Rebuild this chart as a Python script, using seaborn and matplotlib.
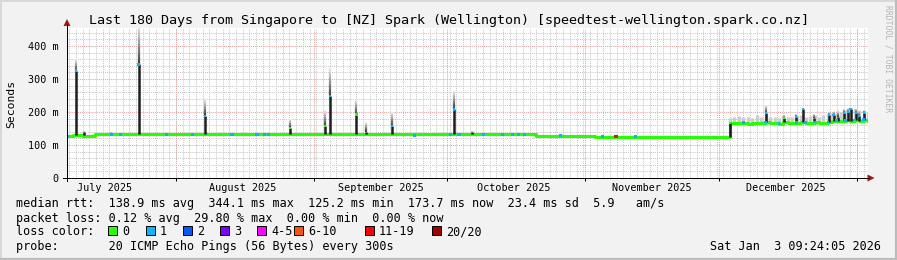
import numpy as np
import pandas as pd
import matplotlib
matplotlib.use("Agg")
import matplotlib.pyplot as plt
import matplotlib.transforms as mtransforms
import matplotlib.dates as mdates
from matplotlib.lines import Line2D
from matplotlib.patches import Rectangle, Polygon
from matplotlib.collections import LineCollection
import seaborn as sns

# ---------------- data ----------------
title = "Last 180 Days from Singapore to [NZ] Spark (Wellington) [speedtest-wellington.spark.co.nz]"
t_start = "2025-07-07 09:24"
t_end = "2026-01-03 09:24"

# median rtt (ms) as step levels before the December shift
step_dates = ["2025-07-07 09:24", "2025-07-08 20:00", "2025-07-11 04:00",
              "2025-07-13 20:00", "2025-10-21 00:00", "2025-11-03 06:00"]
step_rtt = [127, 131, 127, 132, 128, 125]

# December: daily median, smoke max, lost pings
dec_dates = ["2025-12-03 12:00", "2025-12-04 12:00", "2025-12-05 12:00", "2025-12-06 12:00",
             "2025-12-07 12:00", "2025-12-08 12:00", "2025-12-09 12:00", "2025-12-10 12:00",
             "2025-12-11 12:00", "2025-12-12 12:00", "2025-12-13 12:00", "2025-12-14 12:00",
             "2025-12-15 12:00", "2025-12-16 12:00", "2025-12-17 12:00", "2025-12-18 12:00",
             "2025-12-19 12:00", "2025-12-20 12:00", "2025-12-21 12:00", "2025-12-22 12:00",
             "2025-12-23 12:00", "2025-12-24 12:00", "2025-12-25 12:00", "2025-12-26 12:00",
             "2025-12-27 12:00", "2025-12-28 12:00", "2025-12-29 12:00", "2025-12-30 12:00",
             "2025-12-31 12:00", "2026-01-01 12:00", "2026-01-02 12:00", "2026-01-03 09:24"]
dec_rtt = [167, 168, 168, 167, 165, 166, 168, 167, 170, 166, 167, 165, 169, 166, 168, 167,
           169, 167, 168, 170, 167, 168, 170, 172, 174, 173, 175, 174, 176, 174, 177, 174]
dec_smoke = [182, 185, 188, 186, 184, 183, 190, 186, 190, 184, 185, 182, 189, 184, 186, 191,
             192, 186, 187, 190, 186, 190, 195, 196, 198, 200, 205, 208, 210, 207, 206, 200]
dec_loss = [0, 0, 0, 1, 0, 0, 0, 0, 1, 0, 0, 1, 0, 0, 0, 1,
            0, 1, 0, 1, 0, 0, 1, 0, 1, 0, 1, 0, 1, 0, 1, 0]

# short periods with packet loss on the baseline
loss_dates = ["2025-07-07 12:00", "2025-07-17 14:00", "2025-07-19 14:00", "2025-07-29 19:00",
              "2025-08-04 19:00", "2025-08-13 14:00", "2025-08-19 05:00", "2025-08-20 19:00",
              "2025-08-21 21:00", "2025-09-23 12:00", "2025-10-01 14:00", "2025-10-03 14:00",
              "2025-10-09 00:00", "2025-10-13 09:00", "2025-10-15 14:00", "2025-10-17 00:00",
              "2025-10-18 07:00", "2025-10-26 09:00", "2025-11-04 19:00", "2025-11-07 21:00",
              "2025-11-12 05:00"]
loss_rtt = [127, 132, 132, 132, 132, 132, 132, 132, 132, 130, 132, 132,
            132, 132, 132, 132, 132, 128, 125, 125, 125]
loss_count = [1, 1, 1, 1, 1, 1, 1, 1, 1, 1, 1, 1, 1, 1, 1, 1, 1, 1, 1, 15, 1]

# spikes: base level, median top, smoke max, lost pings
spike_dates = ["2025-07-09 12:00", "2025-07-11 06:00", "2025-07-17 11:00", "2025-07-23 14:00",
               "2025-08-07 12:00", "2025-08-26 14:00", "2025-09-03 12:00", "2025-09-04 14:00",
               "2025-09-10 12:00", "2025-09-12 16:00", "2025-09-18 12:00", "2025-10-02 12:00",
               "2025-10-06 15:00", "2025-12-03 12:00",
               "2025-12-11 14:00", "2025-12-15 14:00", "2025-12-18 07:00", "2025-12-19 22:00",
               "2025-12-22 07:00", "2025-12-25 17:00", "2025-12-26 19:00", "2025-12-27 17:00",
               "2025-12-29 02:00", "2025-12-30 00:00", "2025-12-30 14:00", "2025-12-31 19:00",
               "2026-01-01 12:00", "2026-01-02 14:00"]
spike_base = [131, 131, 132, 132, 132, 132, 132, 132, 132, 132, 132, 132, 132, 125,
              170, 169, 167, 169, 170, 170, 172, 174, 175, 174, 174, 176, 174, 177]
spike_top = [325, 138, 134, 344, 188, 152, 158, 248, 193, 140, 157, 208, 138, 167,
             197, 182, 185, 209, 182, 191, 191, 185, 197, 201, 209, 197, 188, 197]
spike_max = [362, 142, 140, 470, 242, 179, 206, 337, 239, 170, 201, 267, 142, 167,
             221, 192, 195, 214, 195, 200, 202, 205, 210, 212, 214, 210, 205, 206]
spike_loss = [1, 0, 0, 1, 1, 0, 0, 1, 0, 0, 1, 1, 0, 0,
              1, 0, 1, 1, 1, 1, 1, 0, 1, 1, 1, 1, 1, 1]

y_ticks = [0, 100, 200, 300, 400]
y_tick_labels = ["0", "100 m", "200 m", "300 m", "400 m"]
month_starts = ["2025-08-01", "2025-09-01", "2025-10-01", "2025-11-01", "2025-12-01", "2026-01-01"]
month_mids = ["2025-07-16", "2025-08-16", "2025-09-16", "2025-10-16", "2025-11-16", "2025-12-16"]
month_labels = ["July 2025", "August 2025", "September 2025", "October 2025",
                "November 2025", "December 2025"]

loss_keys = [0, 1, 2, 3, 5, 10, 19, 20]
loss_names = ["0", "1", "2", "3", "4-5", "6-10", "11-19", "20/20"]
loss_colors = ["#26ff00", "#00b8ff", "#0059ff", "#7e00ff", "#ff00ff", "#ff5500", "#ff0000", "#a00000"]

stat_line1 = "median rtt:  138.9 ms avg  344.1 ms max  125.2 ms min  173.7 ms now  23.4 ms sd  5.9   am/s"
stat_line2 = "packet loss: 0.12 % avg  29.80 % max  0.00 % min  0.00 % now"
stat_line3 = "loss color:"
stat_line4 = "probe:       20 ICMP Echo Pings (56 Bytes) every 300s"
stamp = "Sat Jan  3 09:24:05 2026"

# ---------------- style ----------------
W, H = 897, 260
MONO = "DejaVu Sans Mono"
plt.rcParams["font.family"] = [MONO, "DejaVu Sans"]
plt.rcParams["lines.scale_dashes"] = False

def fx(x):
    return x / W

def fy(y):
    return 1 - y / H

palette = dict(zip(loss_keys, loss_colors))
palette[15] = "#ff0000"

fig = plt.figure(figsize=(W / 100, H / 100), dpi=100, facecolor="#f2f2f2")
ax = fig.add_axes([fx(66.5), fy(178), 801 / W, 150 / H])
ax.set_facecolor("white")
for s in ax.spines.values():
    s.set_visible(False)

x0 = pd.Timestamp(t_start)
x1 = pd.Timestamp(t_end)
ax.set_xlim(x0, x1)
ax.set_ylim(0, 454.5)

# grid
minor_c = "#c8c8c8"
major_c = "#eba0a0"
dot = (0, (0.75, 0.75))
for v in range(20, 460, 20):
    if v % 100:
        ax.axhline(v, color=minor_c, lw=0.72, ls=dot, zorder=0.5)
for d in pd.date_range("2025-07-08 00:00", "2026-01-04", freq="36h"):
    ax.axvline(d, color=minor_c, lw=0.72, ls=dot, zorder=0.5)
for v in y_ticks[1:]:
    ax.axhline(v, color=major_c, lw=0.72, ls=dot, zorder=0.6)
for d in month_starts:
    ax.axvline(pd.Timestamp(d), color=major_c, lw=0.72, ls=dot, zorder=0.6)

# December smoke
dec_x = pd.to_datetime(dec_dates)
ax.vlines(dec_x, dec_rtt, dec_smoke, color="#cdcdcd", lw=2.4, zorder=1)

# median line
med_x = pd.to_datetime(step_dates + dec_dates)
med_y = step_rtt + dec_rtt
sns.lineplot(x=med_x, y=med_y, ax=ax, color="#26ff00", lw=2.2, drawstyle="steps-post",
             estimator=None, zorder=2)

# spikes: dark core + fading smoke
sp_x = pd.to_datetime(spike_dates)
ax.vlines(sp_x, spike_base, spike_top, color="#1e1e1e", lw=1.8, zorder=3)
segs, cols = [], []
nstep = 12
for d, t, m in zip(mdates.date2num(sp_x), spike_top, spike_max):
    if m <= t:
        continue
    edges = np.linspace(t, m, nstep + 1)
    for i in range(nstep):
        segs.append([(d, edges[i]), (d, edges[i + 1])])
        g = 0.25 + 0.68 * i / (nstep - 1)
        cols.append((g, g, g))
ax.add_collection(LineCollection(segs, colors=cols, linewidths=1.6, zorder=3))

# loss-coloured median markers
sns.scatterplot(x=pd.to_datetime(loss_dates), y=loss_rtt, hue=loss_count, palette=palette,
                marker="s", s=5, linewidth=0, legend=False, ax=ax, zorder=4)
dec_lossy = [i for i, l in enumerate(dec_loss) if l > 0]
sns.scatterplot(x=dec_x[dec_lossy], y=[dec_rtt[i] for i in dec_lossy],
                hue=[dec_loss[i] for i in dec_lossy], palette=palette,
                marker="s", s=4, linewidth=0, legend=False, ax=ax, zorder=4)
top_idx = [i for i in range(len(spike_top)) if spike_top[i] - spike_base[i] > 12]
sns.scatterplot(x=sp_x[top_idx], y=[spike_top[i] for i in top_idx],
                hue=[spike_loss[i] for i in top_idx], palette=palette,
                marker="s", s=3.5, linewidth=0, legend=False, ax=ax, zorder=4)

ax.set_xlabel("")
ax.set_ylabel("")

# ticks
ax.set_yticks(y_ticks)
ax.set_yticklabels(y_tick_labels)
ax.tick_params(axis="y", length=0, pad=5.6, labelsize=7.3, colors="black")
ax.set_xticks(pd.to_datetime(month_starts))
ax.set_xticklabels([])
ax.tick_params(axis="x", length=2.2, width=0.72, direction="out", color="black")
trans = mtransforms.blended_transform_factory(ax.transData, ax.transAxes)
for d, lab in zip(mdates.date2num(pd.to_datetime(month_mids)), month_labels):
    ax.text(d, -13 / 150, lab, transform=trans, ha="center", va="baseline", fontsize=7.3)

# axes lines + arrows
fig.add_artist(Line2D([fx(63), fx(869)], [fy(178), fy(178)], color="black", lw=0.72))
fig.add_artist(Line2D([fx(67), fx(67)], [fy(181), fy(24)], color="black", lw=0.72))
arrow_c = "#a31515"
fig.add_artist(Polygon([(fx(63.5), fy(26)), (fx(70.5), fy(26)), (fx(67), fy(19))],
                       closed=True, color=arrow_c, lw=0))
fig.add_artist(Polygon([(fx(867.5), fy(174.5)), (fx(867.5), fy(181.5)), (fx(874.5), fy(178))],
                       closed=True, color=arrow_c, lw=0))

# texts
fig.text(fx(448.5), fy(24), title, ha="center", va="baseline", fontsize=9.6)
fig.text(fx(11), fy(103.5), "Seconds", rotation=90, ha="center", va="center", fontsize=8.2)
fig.text(fx(888), fy(59), "RRDTOOL / TOBI OETIKER", rotation=270, ha="center", va="center",
         fontsize=5.8, color="#b4b4b4")

fs = 8.5
fig.text(fx(16), fy(207.5), stat_line1, ha="left", va="baseline", fontsize=fs)
fig.text(fx(16), fy(221.7), stat_line2, ha="left", va="baseline", fontsize=fs)
fig.text(fx(16), fy(235.3), stat_line3, ha="left", va="baseline", fontsize=fs)
fig.text(fx(16), fy(250), stat_line4, ha="left", va="baseline", fontsize=fs)
fig.text(fx(881), fy(250), stamp, ha="right", va="baseline", fontsize=fs)

box_x = [108, 146, 183, 220, 257, 294, 365, 432]
for bx, name, c in zip(box_x, loss_names, loss_colors):
    fig.add_artist(Rectangle((fx(bx), fy(235)), 9 / W, 9 / H, facecolor=c,
                             edgecolor="black", lw=0.7))
    fig.text(fx(bx + 14), fy(235.3), name, ha="left", va="baseline", fontsize=fs)

# border
fig.add_artist(Line2D([0, 1], [fy(0.75), fy(0.75)], color="#d8d8d8", lw=1.4))
fig.add_artist(Line2D([fx(0.75), fx(0.75)], [0, 1], color="#d8d8d8", lw=1.4))
fig.add_artist(Line2D([0, 1], [fy(259), fy(259)], color="#bcbcbc", lw=1.6))
fig.add_artist(Line2D([fx(896), fx(896)], [0, 1], color="#bcbcbc", lw=1.6))

fig.savefig("out.png", dpi=100, facecolor=fig.get_facecolor())
